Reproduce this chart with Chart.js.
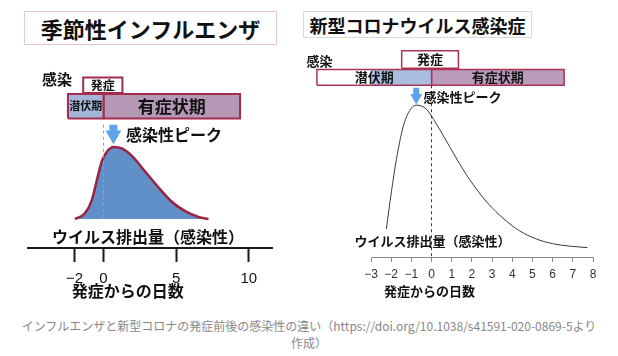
<!DOCTYPE html>
<html><head><meta charset="utf-8">
<script src="https://cdn.jsdelivr.net/npm/chart.js@4.4.1/dist/chart.umd.min.js"></script>
<style>
html,body{margin:0;padding:0;background:#fff;width:618px;height:356px;overflow:hidden;font-family:"Noto Sans CJK JP",sans-serif;}
canvas{position:absolute;top:0;}
#c1{left:0;}
#c2{left:300px;}
.tbox{position:absolute;box-sizing:border-box;display:flex;align-items:center;justify-content:center;font-weight:bold;color:#111;background:#fff;white-space:nowrap;}
#t1{left:24px;top:11px;width:253px;height:34px;border:1px solid #e8c4dc;font-size:22px;}
#t2{left:303px;top:11px;width:229px;height:27px;border:1px solid #d9d9d9;font-size:18px;}
#cap{position:absolute;left:0;top:317px;width:618px;text-align:center;font-size:12px;line-height:17px;color:#888;}
</style></head><body>
<canvas id="c1" width="300" height="310"></canvas>
<canvas id="c2" width="318" height="310"></canvas>
<div class="tbox" id="t1">季節性インフルエンザ</div>
<div class="tbox" id="t2">新型コロナウイルス感染症</div>
<div id="cap">インフルエンザと新型コロナの発症前後の感染性の違い（https://doi.org/10.1038/s41591-020-0869-5より<br>作成）</div>
<script>
// ---- data ----
const fluDays = [-1.97, -1.28, -0.81, -0.47, -0.12, 0.22, 0.68, 1.26, 1.94, 2.86, 3.78, 4.70, 5.62, 6.54, 7.23];
const fluShedding = [0, 0.08, 0.26, 0.53, 0.80, 0.93, 1.00, 0.98, 0.88, 0.66, 0.44, 0.24, 0.11, 0.03, 0];
const covidDays = [-2.24, -1.99, -1.74, -1.41, -1.09, -0.76, -0.26, 0.23, 0.89, 1.55, 2.21, 2.86, 3.52, 4.35, 5.17, 5.99, 6.81, 7.72];
const covidShedding = [0.185, 0.429, 0.643, 0.857, 0.963, 1.00, 0.974, 0.878, 0.728, 0.579, 0.45, 0.344, 0.258, 0.173, 0.12, 0.088, 0.072, 0.062];
const fluTickValues = [-2, 0, 5, 10];
const covidTickValues = [-3, -2, -1, 0, 1, 2, 3, 4, 5, 6, 7, 8];
const fluIncubation = [-2.45, 0];
const fluSymptomatic = [0, 9.4];
const fluOnsetBox = [-1.4, 1.3];
const covidIncubation = [-5.68, 0];
const covidSymptomatic = [0, 6.57];
const covidOnsetBox = [-1.48, 1.33];
const phaseLabels = ['潜伏期', '有症状期'];
const onsetLabel = '発症';
const infectionLabel = '感染';
const peakLabel = '感染性ピーク';
const yLabel = 'ウイルス排出量（感染性）';
const xLabel = '発症からの日数';

// ---- helpers ----
const CJK = '"Noto Sans CJK JP", "Noto Sans", sans-serif';
const NUM = '"Liberation Sans", Arial, sans-serif';
const fmt = v => v < 0 ? '\u2212' + Math.abs(v) : String(v);
function pts(xs, ys) { return xs.map((x, i) => ({x, y: ys[i]})); }
function rect(xr, yr) {
  return [{x: xr[0], y: yr[0]}, {x: xr[1], y: yr[0]}, {x: xr[1], y: yr[1]}, {x: xr[0], y: yr[1]}, {x: xr[0], y: yr[0]}];
}
function peakDay(xs, ys) { let k = 0; ys.forEach((v, i) => { if (v > ys[k]) k = i; }); return xs[k]; }
function box(data, bg, border, bw, order) {
  return {data, showLine: true, fill: 'shape', backgroundColor: bg, borderColor: border, borderWidth: bw,
    pointRadius: 0, tension: 0, clip: false, order, borderJoinStyle: 'miter'};
}
function textPlugin(items) {
  return {
    id: 'panelText',
    afterDatasetsDraw(chart) {
      const {ctx, scales: {x, y}} = chart;
      ctx.save();
      for (const t of items) {
        ctx.font = 'bold ' + t.size + 'px ' + CJK;
        ctx.fillStyle = t.color || '#111';
        ctx.textAlign = t.align || 'center';
        ctx.textBaseline = 'middle';
        ctx.fillText(t.text, x.getPixelForValue(t.x), y.getPixelForValue(t.y));
      }
      ctx.restore();
    }
  };
}
const mid = r => (r[0] + r[1]) / 2;

function makePanel(id, L) {
  const pk = peakDay(L.days, L.values);
  const datasets = [
    box(rect(L.incubation, L.barRow), L.incColor, L.red, L.barBorder, 6),
    box(rect(L.symptomatic, L.barRow), L.symColor, L.red, L.barBorder, 6),
    box(rect(L.onset, L.onsetRow), '#ffffff', L.red, L.barBorder, 6),
    {data: pts(L.days, L.values), showLine: true, fill: L.curveFill ? 'origin' : false,
     backgroundColor: L.curveFill || 'transparent', borderColor: L.curveLine, borderWidth: L.curveWidth,
     pointRadius: 0, cubicInterpolationMode: 'monotone', order: 4},
    {data: [{x: 0, y: L.dashTop}, {x: 0, y: 0}], showLine: true, borderColor: L.dashColor, borderWidth: 1,
     borderDash: [3, 3], pointRadius: 0, order: 3},
    {data: [{x: pk, y: L.shaftTop}, {x: pk, y: L.headY}], showLine: true, borderColor: '#5ca3ec',
     borderWidth: L.shaftW, borderCapStyle: 'butt', pointRadius: 0, order: 2},
    {data: [{x: pk, y: L.headY}], showLine: false, pointStyle: 'triangle', pointRotation: 180,
     pointRadius: L.headR, pointBackgroundColor: '#5ca3ec', pointBorderColor: '#5ca3ec', pointBorderWidth: 0, order: 1}
  ];
  const items = [
    {text: infectionLabel, x: L.infX, y: L.infY, size: L.infSize},
    {text: onsetLabel, x: mid(L.onset), y: mid(L.onsetRow), size: L.onsetSize},
    {text: phaseLabels[0], x: mid(L.incubation), y: mid(L.barRow), size: L.incSize},
    {text: phaseLabels[1], x: mid(L.symptomatic), y: mid(L.barRow), size: L.symSize},
    {text: peakLabel, x: L.peakX, y: L.peakY, size: L.peakSize, align: 'left'},
    {text: yLabel, x: L.yLabX, y: L.yLabY, size: L.yLabSize},
    {text: xLabel, x: L.xLabX, y: L.xLabY, size: L.xLabSize}
  ];
  return new Chart(document.getElementById(id), {
    type: 'scatter',
    data: {datasets},
    plugins: [textPlugin(items)],
    options: {
      responsive: false, animation: false, devicePixelRatio: 1,
      layout: {padding: L.padding},
      plugins: {legend: {display: false}, tooltip: {enabled: false}, title: {display: false}},
      events: [],
      scales: {
        x: {type: 'linear', min: L.xMin, max: L.xMax,
          afterBuildTicks: ax => { ax.ticks = L.ticks.map(v => ({value: v})); },
          border: {display: true, color: L.axisColor, width: L.axisWidth},
          grid: {display: true, drawOnChartArea: false, drawTicks: true, tickLength: L.tickLen,
                 tickWidth: L.axisWidth, tickColor: L.axisColor},
          ticks: {padding: L.tickPad, color: L.tickColor, maxRotation: 0, autoSkip: false,
                  font: {size: L.tickSize, family: NUM}, callback: v => fmt(v)}},
        y: {display: false, min: L.yMin, max: L.yMax}
      }
    }
  });
}

makePanel('c1', {
  days: fluDays, values: fluShedding, ticks: fluTickValues,
  incubation: fluIncubation, symptomatic: fluSymptomatic, onset: fluOnsetBox,
  xMin: -5.2, xMax: 11.6, yMin: -0.4, yMax: 2.907,
  padding: {left: 28, right: 28, top: 0, bottom: 14},
  onsetRow: [1.747, 1.960], barRow: [1.393, 1.734],
  incColor: '#a3b5d9', symColor: '#b597b6', red: '#a42a4e', barBorder: 2,
  curveFill: '#6190c9', curveLine: '#9c2342', curveWidth: 2.5,
  dashTop: 1.307, dashColor: '#a0a0a0',
  shaftTop: 1.307, headY: 1.163, headR: 9.2, shaftW: 8,
  axisColor: '#1a1a1a', axisWidth: 2, tickLen: 14, tickPad: 8, tickColor: '#111', tickSize: 15,
  infX: -3.2, infY: 1.934, infSize: 15, onsetSize: 12, incSize: 11, symSize: 17,
  peakX: 1.55, peakY: 1.164, peakSize: 16,
  yLabX: 3.07, yLabY: -0.253, yLabSize: 16, xLabX: 1.66, xLabY: -1.0, xLabSize: 16
});

makePanel('c2', {
  days: covidDays, values: covidShedding, ticks: covidTickValues,
  incubation: covidIncubation, symptomatic: covidSymptomatic, onset: covidOnsetBox,
  xMin: -3, xMax: 8, yMin: 0, yMax: 1.647,
  padding: {left: 71, right: 25, top: 0, bottom: 23.6},
  onsetRow: [1.243, 1.359], barRow: [1.131, 1.234],
  incColor: '#a9bde1', symColor: '#b99cbc', red: '#ad3355', barBorder: 1.5,
  curveFill: null, curveLine: '#3a3a3a', curveWidth: 1,
  dashTop: 1.131, dashColor: '#333',
  shaftTop: 1.115, headY: 1.050, headR: 6.9, shaftW: 6,
  axisColor: '#8a8a8a', axisWidth: 1, tickLen: 5, tickPad: 5, tickColor: '#333', tickSize: 12,
  infX: -5.55, infY: 1.288, infSize: 13, onsetSize: 13, incSize: 13, symSize: 13,
  peakX: -0.4, peakY: 1.051, peakSize: 13,
  yLabX: 0.05, yLabY: 0.103, yLabSize: 13, xLabX: -0.1, xLabY: -0.224, xLabSize: 13
});
</script>
</body></html>
